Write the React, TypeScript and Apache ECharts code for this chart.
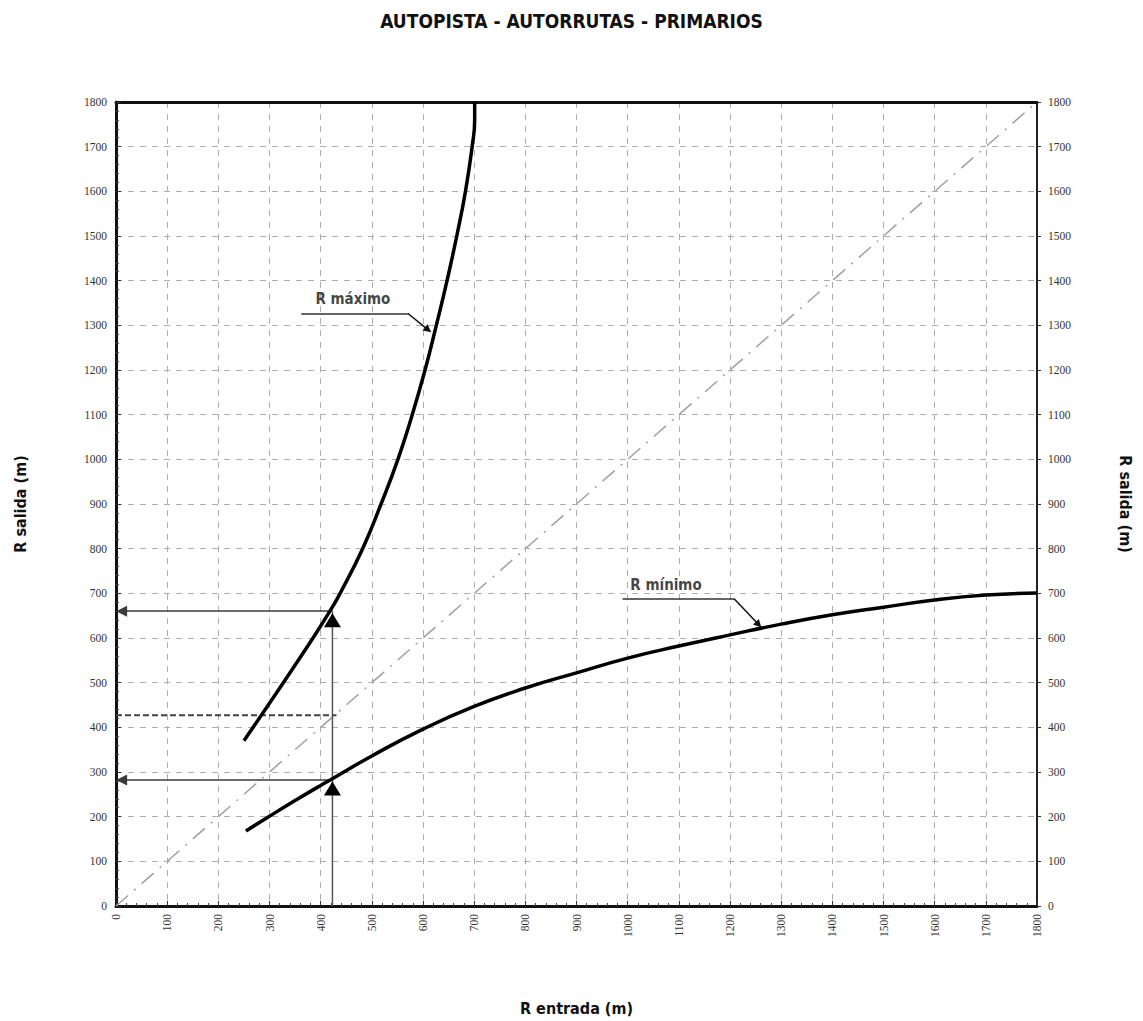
import React, { useEffect, useRef } from "react";
import * as echarts from "echarts";

// Radio de salida máximo en función del radio de entrada (m)
const rEntradaMax = [250, 268, 327, 385, 418, 438, 482, 518, 551, 579, 604, 626, 647, 666, 683, 696, 701, 701];
const rSalidaMax = [370, 400, 500, 600, 660, 700, 800, 900, 1000, 1100, 1200, 1300, 1400, 1500, 1600, 1700, 1760, 1800];

// Radio de salida mínimo en función del radio de entrada (m)
const rEntradaMin = [254, 300, 350, 400, 423, 500, 600, 700, 800, 900, 1000, 1100, 1200, 1300, 1400, 1500, 1600, 1700, 1800];
const rSalidaMin = [168, 201, 236, 270, 285, 336, 396, 447, 488, 522, 555, 582, 607, 631, 652, 669, 685, 696, 701];

// Ejemplo de lectura: R entrada = 423 m
const ejemploEntrada = 423;
const ejemploSalidaMax = 660;
const ejemploSalidaMin = 282;
const ejemploSalidaIgual = 427;

const ticks = [0, 100, 200, 300, 400, 500, 600, 700, 800, 900, 1000, 1100, 1200, 1300, 1400, 1500, 1600, 1700, 1800];

const titulo = "AUTOPISTA - AUTORRUTAS - PRIMARIOS";
const nombreX = "R entrada (m)";
const nombreY = "R salida (m)";
const etiquetaMax = "R máximo";
const etiquetaMin = "R mínimo";

const condensed = "'Liberation Sans Narrow', 'DejaVu Sans Condensed', 'Roboto', sans-serif";
const serif = "'Liberation Serif', 'DejaVu Serif', serif";

export default function App() {
  const ref = useRef<HTMLDivElement>(null);

  useEffect(() => {
    if (!ref.current) return;
    const chart = echarts.init(ref.current, undefined, { renderer: "svg" });

    const maxPts = rEntradaMax.map((x, i) => [x, rSalidaMax[i]]);
    const minPts = rEntradaMin.map((x, i) => [x, rSalidaMin[i]]);
    const xMin = ticks[0];
    const xMax = ticks[ticks.length - 1];
    const plain = (v: number) => String(v);

    const gridLine = { show: true, lineStyle: { color: "#adadad", width: 1, type: [6, 6] as any } };

    chart.setOption({
      animation: false,
      backgroundColor: "#ffffff",
      title: {
        text: titulo,
        left: "center",
        top: 6,
        textStyle: { fontFamily: condensed, fontWeight: "bold", fontSize: 19, color: "#111" },
      },
      grid: { left: 116, right: 106, top: 102, bottom: 115 },
      xAxis: [
        {
          type: "value",
          min: xMin,
          max: xMax,
          interval: 100,
          position: "bottom",
          name: nombreX,
          nameLocation: "middle",
          nameGap: 94,
          nameTextStyle: { fontFamily: condensed, fontWeight: "bold", fontSize: 16, color: "#111" },
          axisLine: { show: true, onZero: false, lineStyle: { color: "#111", width: 3 } },
          axisTick: { show: true, inside: true, length: 5, lineStyle: { color: "#333" } },
          minorTick: { show: true, splitNumber: 5, length: 3, lineStyle: { color: "#444" } },
          axisLabel: { rotate: 90, margin: 8, fontFamily: serif, fontSize: 11.5, color: "#333", formatter: plain },
          splitLine: gridLine,
        },
        {
          type: "value",
          min: xMin,
          max: xMax,
          interval: 100,
          position: "top",
          axisLine: { show: true, onZero: false, lineStyle: { color: "#111", width: 3 } },
          axisTick: { show: false },
          axisLabel: { show: false },
          splitLine: { show: false },
        },
      ],
      yAxis: [
        {
          type: "value",
          min: xMin,
          max: xMax,
          interval: 100,
          position: "left",
          name: nombreY,
          nameLocation: "middle",
          nameGap: 88,
          nameRotate: 90,
          nameTextStyle: { fontFamily: condensed, fontWeight: "bold", fontSize: 16, color: "#111" },
          axisLine: { show: true, onZero: false, lineStyle: { color: "#111", width: 3 } },
          axisTick: { show: true, inside: true, length: 5, lineStyle: { color: "#333" } },
          minorTick: { show: true, splitNumber: 5, length: 3, lineStyle: { color: "#444" } },
          axisLabel: { margin: 9, fontFamily: serif, fontSize: 11.5, color: "#333", formatter: plain },
          splitLine: gridLine,
        },
        {
          type: "value",
          min: xMin,
          max: xMax,
          interval: 100,
          position: "right",
          name: nombreY,
          nameLocation: "middle",
          nameGap: 80,
          nameRotate: -90,
          nameTextStyle: { fontFamily: condensed, fontWeight: "bold", fontSize: 16, color: "#111" },
          axisLine: { show: true, onZero: false, lineStyle: { color: "#222", width: 2 } },
          axisTick: { show: true, inside: false, length: 4, lineStyle: { color: "#333" } },
          axisLabel: { margin: 11, fontFamily: serif, fontSize: 11.5, color: "#333", formatter: plain },
          splitLine: { show: false },
        },
      ],
      series: [
        {
          // Recta R entrada = R salida
          type: "line",
          data: [[xMin, xMin], [xMax, xMax]],
          symbol: "none",
          silent: true,
          lineStyle: { color: "#a0a0a0", width: 1.5, type: [16, 8, 2, 8] as any },
          z: 2,
        },
        {
          type: "line",
          data: maxPts,
          smooth: 0.5,
          symbol: "none",
          lineStyle: { color: "#000", width: 3.5 },
          z: 5,
        },
        {
          type: "line",
          data: minPts,
          smooth: 0.5,
          symbol: "none",
          lineStyle: { color: "#000", width: 3.5 },
          z: 5,
        },
        {
          // Línea vertical de lectura
          type: "line",
          data: [[ejemploEntrada, 0], [ejemploEntrada, ejemploSalidaMax]],
          symbol: "none",
          lineStyle: { color: "#555", width: 1.5 },
          z: 3,
        },
        {
          // Lectura del radio igual al de entrada
          type: "line",
          data: [[0, ejemploSalidaIgual], [ejemploEntrada + 8, ejemploSalidaIgual]],
          symbol: "none",
          lineStyle: { color: "#444", width: 2, type: [6, 3] as any },
          z: 3,
        },
        {
          // Flechas de lectura hacia el eje
          type: "lines",
          coordinateSystem: "cartesian2d",
          symbol: ["none", "triangle"],
          symbolSize: 11,
          lineStyle: { color: "#3a3a3a", width: 1.5, opacity: 1 },
          data: [
            { coords: [[ejemploEntrada, ejemploSalidaMax], [11, ejemploSalidaMax]] },
            { coords: [[ejemploEntrada, ejemploSalidaMin], [11, ejemploSalidaMin]] },
          ],
          z: 4,
        },
        {
          // Marcas triangulares sobre las curvas
          type: "scatter",
          symbol: "triangle",
          symbolSize: [17, 14],
          itemStyle: { color: "#000", opacity: 1 },
          data: [[ejemploEntrada, 640], [ejemploEntrada, 263]],
          z: 6,
        },
        {
          // Trazo horizontal de las etiquetas
          type: "lines",
          coordinateSystem: "cartesian2d",
          symbol: "none",
          lineStyle: { color: "#333", width: 1.5, opacity: 1 },
          data: [
            { coords: [[362, 1327], [570, 1327]] },
            { coords: [[990, 688], [1208, 688]] },
          ],
          z: 4,
        },
        {
          // Trazo inclinado con punta de flecha
          type: "lines",
          coordinateSystem: "cartesian2d",
          symbol: ["none", "triangle"],
          symbolSize: 8,
          lineStyle: { color: "#111", width: 1.5, opacity: 1 },
          data: [
            { coords: [[570, 1327], [610, 1290]] },
            { coords: [[1208, 688], [1256, 630]] },
          ],
          z: 4,
        },
        {
          // Textos de las curvas
          type: "scatter",
          symbolSize: 0,
          silent: true,
          label: {
            show: true,
            position: "inside",
            formatter: (p: any) => p.data[2],
            fontFamily: condensed,
            fontWeight: "bold",
            fontSize: 15,
            color: "#111",
          },
          data: [
            [463, 1358, etiquetaMax],
            [1075, 718, etiquetaMin],
          ],
          z: 7,
        },
      ],
    });

    return () => chart.dispose();
  }, []);

  return (
    <div
      ref={ref}
      style={{ position: "fixed", left: 0, top: 0, width: 1143, height: 1021, background: "#fff" }}
    />
  );
}
